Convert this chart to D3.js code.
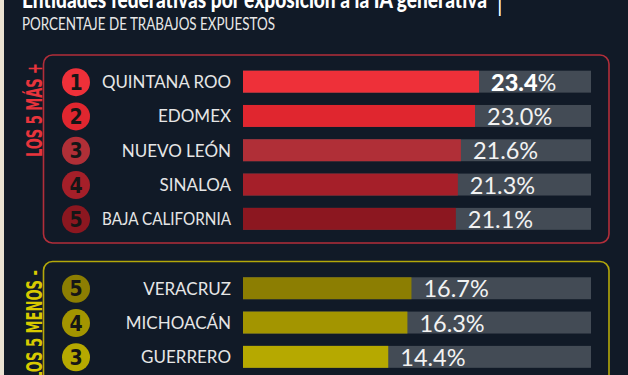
<!DOCTYPE html>
<html>
<head>
<meta charset="utf-8">
<script src="https://cdn.jsdelivr.net/npm/d3@7"></script>
<style>
  body { margin: 0; background: #111a27; }
  svg { display: block; }
</style>
</head>
<body>
<svg></svg>
<script>
// data
let topStates = ["QUINTANA ROO", "EDOMEX", "NUEVO LEÓN", "SINALOA", "BAJA CALIFORNIA"];
let topValues = [23.4, 23.0, 21.6, 21.3, 21.1];
let topRanks = [1, 2, 3, 4, 5];

let bottomStates = ["VERACRUZ", "MICHOACÁN", "GUERRERO"];
let bottomValues = [16.7, 16.3, 14.4];
let bottomRanks = [5, 4, 3];

let topColors = ["#ee3039", "#e0262f", "#b02f37", "#a51f29", "#8c1720"];
let bottomColors = ["#8c7e02", "#a39500", "#b6a900"];

let width = 628;
let height = 375;

let svg = d3.select("svg").attr("width", width).attr("height", height);

let xScale = d3.scaleLinear().domain([0, 34.5]).range([243, 591]);

// background + left strip
svg.append("rect").attr("width", width).attr("height", height).attr("fill", "#111a27");
svg.append("rect").attr("width", 4).attr("height", height).attr("fill", "#ebe2d2");

// titles (the main title is cut off by the top edge, like in the original)
svg.append("text")
  .attr("x", 22).attr("y", 8)
  .attr("textLength", 465)
  .attr("lengthAdjust", "spacingAndGlyphs")
  .style("font-family", "Lato, 'Open Sans', sans-serif")
  .style("font-weight", "900")
  .style("font-size", "24px")
  .style("fill", "#ffffff")
  .text("Entidades federativas por exposición a la IA generativa");

svg.append("text")
  .attr("x", 497).attr("y", 12)
  .style("font-family", "Lato, sans-serif")
  .style("font-size", "22px")
  .style("fill", "#ffffff")
  .text("|");

svg.append("text")
  .attr("x", 22).attr("y", 30)
  .attr("textLength", 253)
  .attr("lengthAdjust", "spacingAndGlyphs")
  .style("font-family", "Lato, 'Open Sans', sans-serif")
  .style("font-size", "16.5px")
  .style("fill", "#e8e8e8")
  .text("PORCENTAJE DE TRABAJOS EXPUESTOS");

// draw one panel
function drawPanel(states, values, ranks, colors, opts) {
  let yScale = d3.scaleBand()
    .domain(states)
    .range(opts.range)
    .paddingInner(0.36)
    .paddingOuter(0.18);

  let g = svg.append("g");

  g.append("rect")
    .attr("x", 43.5).attr("y", opts.boxTop)
    .attr("width", 565.5).attr("height", opts.boxHeight)
    .attr("rx", 9)
    .attr("fill", "none")
    .attr("stroke", opts.stroke)
    .attr("stroke-width", 1.6);

  g.append("text")
    .attr("transform", `translate(42, ${opts.labelEnd}) rotate(-90)`)
    .attr("text-anchor", "end")
    .attr("textLength", opts.labelLength)
    .attr("lengthAdjust", "spacingAndGlyphs")
    .style("font-family", "'Liberation Sans Narrow', 'DejaVu Sans Condensed', sans-serif")
    .style("font-weight", "bold")
    .style("font-size", "21px")
    .style("fill", opts.labelColor)
    .text(opts.label);

  let rows = g.selectAll("g.row")
    .data(states.map((s, i) => ({ state: s, value: values[i], rank: ranks[i], color: colors[i], i: i })))
    .enter()
    .append("g")
    .attr("class", "row");

  // track
  rows.append("rect")
    .attr("x", xScale(0))
    .attr("y", (d) => yScale(d.state))
    .attr("width", xScale(34.5) - xScale(0))
    .attr("height", yScale.bandwidth())
    .attr("fill", "#434b55");

  // bar
  rows.append("rect")
    .attr("x", xScale(0))
    .attr("y", (d) => yScale(d.state))
    .attr("width", (d) => xScale(d.value) - xScale(0))
    .attr("height", yScale.bandwidth())
    .attr("fill", (d) => d.color);

  // rank circle
  rows.append("circle")
    .attr("cx", 76)
    .attr("cy", (d) => yScale(d.state) + yScale.bandwidth() / 2 + 0.5)
    .attr("r", 14)
    .attr("fill", (d) => d.color);

  rows.append("text")
    .attr("x", 76)
    .attr("y", (d) => yScale(d.state) + yScale.bandwidth() / 2 + 8)
    .attr("text-anchor", "middle")
    .style("font-family", "'Liberation Sans Narrow', 'DejaVu Sans Condensed', sans-serif")
    .style("font-weight", "bold")
    .style("font-size", "21px")
    .style("fill", "#161616")
    .text((d) => d.rank);

  // state name, squeezed if wider than the original's longest label
  rows.append("text")
    .attr("x", 231)
    .attr("y", (d) => yScale(d.state) + yScale.bandwidth() / 2 + 6.5)
    .attr("text-anchor", "end")
    .style("font-family", "Lato, 'Open Sans', sans-serif")
    .style("font-size", "17px")
    .style("fill", "#e6e6e6")
    .text((d) => d.state)
    .each(function () {
      if (this.getComputedTextLength() > 129) {
        d3.select(this).attr("textLength", 129).attr("lengthAdjust", "spacingAndGlyphs");
      }
    });

  // value label
  let vt = rows.append("text")
    .attr("x", (d) => xScale(d.value) + 12)
    .attr("y", (d) => yScale(d.state) + yScale.bandwidth() / 2 + 9)
    .style("font-family", "Lato, 'Open Sans', sans-serif")
    .style("font-size", "23.5px")
    .style("fill", "#f2f2f2");

  vt.append("tspan")
    .style("font-weight", (d) => (opts.boldFirst && d.i === 0 ? "900" : "normal"))
    .style("fill", (d) => (opts.boldFirst && d.i === 0 ? "#ffffff" : "#f2f2f2"))
    .text((d) => d.value.toFixed(1));
  vt.append("tspan").text("%");
}

drawPanel(topStates, topValues, topRanks, topColors, {
  range: [64.5, 236],
  boxTop: 55,
  boxHeight: 188,
  stroke: "#b22e3a",
  label: "LOS 5 MÁS +",
  labelEnd: 63,
  labelLength: 94,
  labelColor: "#e8343c",
  boldFirst: true,
});

drawPanel(bottomStates, bottomValues, bottomRanks, bottomColors, {
  range: [271.1, 374],
  boxTop: 261.5,
  boxHeight: 200,
  stroke: "#b4a80a",
  label: "LOS 5 MENOS -",
  labelEnd: 270,
  labelLength: 110,
  labelColor: "#d8ca00",
  boldFirst: false,
});
</script>
</body>
</html>
